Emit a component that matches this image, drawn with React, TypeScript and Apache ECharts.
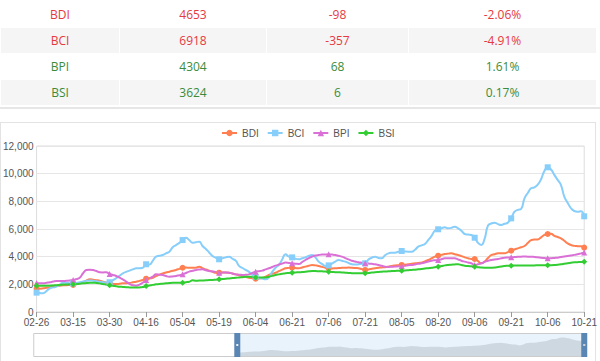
import React, { useEffect, useRef } from 'react';
import * as echarts from 'echarts';

// ---------- table ----------
const tableNames = ['BDI', 'BCI', 'BPI', 'BSI'];
const tableValues = ['4653', '6918', '4304', '3624'];
const tableChanges = ['-98', '-357', '68', '6'];
const tablePercents = ['-2.06%', '-4.91%', '1.61%', '0.17%'];

// ---------- series ----------
const seriesNames = ['BDI', 'BCI', 'BPI', 'BSI'];
const seriesColors = ['#ff7f50', '#87cefa', '#da70d6', '#32cd32'];
const seriesSymbols = ['circle', 'rect', 'triangle', 'diamond'];

// calendar used to build the category axis (trading days, UK bank holidays removed)
const firstVisibleDay = '2021-02-26';
const lastVisibleDay = '2021-10-21';
const hiddenDayCount = 96; // days before the zoom window (left of the slider handle)
const holidays = ['2020-12-25', '2020-12-28', '2021-01-01', '2021-04-02', '2021-04-05', '2021-05-03', '2021-05-31'];
const labelStep = 11;

const bdi = [
  1700, 1688, 1710, 1745, 1780, 1830, 1880, 1905, 1930, 1940, 1945,
  1950, 2010, 2070, 2170, 2265, 2360, 2340, 2300, 2265, 2190, 2120,
  2070, 2045, 2020, 2040, 2070, 2085, 2100, 2150, 2190, 2250, 2310,
  2410, 2430, 2480, 2600, 2700, 2780, 2850, 2915, 2980, 3040, 3120,
  3200, 3210, 3200, 3190, 3200, 3280, 3160, 3070, 2990, 2910, 2840,
  2840, 2850, 2860, 2840, 2780, 2720, 2660, 2600, 2540, 2480, 2440,
  2410, 2420, 2460, 2560, 2675, 2760, 2840, 2950, 3060, 3160, 3190,
  3200, 3180, 3160, 3220, 3280, 3340, 3400, 3370, 3330, 3260, 3200,
  3160, 3150, 3160, 3180, 3190, 3200, 3210, 3200, 3180, 3160, 3100,
  3040, 3080, 3130, 3170, 3200, 3220, 3240, 3280, 3330, 3360, 3380,
  3400, 3420, 3450, 3490, 3520, 3550, 3570, 3660, 3760, 3880, 4000,
  4070, 4130, 4190, 4220, 4240, 4180, 4120, 4040, 3950, 3890, 3830,
  3830, 3680, 3520, 3640, 3900, 4120, 4180, 4240, 4240, 4240, 4330,
  4430, 4520, 4600, 4680, 4770, 4980, 5200, 5250, 5250, 5400, 5570,
  5640, 5650, 5500, 5420, 5330, 5150, 4960, 4840, 4780, 4760, 4751, 4653,
];

const bci = [
  1400, 1370, 1350, 1520, 1710, 1780, 1830, 1980, 2120, 2100, 2080,
  2070, 2100, 2150, 2200, 2250, 2280, 2260, 2220, 2180, 2150, 2130,
  2150, 2300, 2450, 2620, 2800, 2900, 2990, 3080, 3160, 3160, 3200,
  3450, 3430, 3700, 4000, 4060, 4120, 4240, 4360, 4680, 4840, 5000,
  5200, 5370, 5200, 5010, 5050, 5085, 4770, 4560, 4300, 4050, 3920,
  3810, 3880, 3950, 4000, 3850, 3710, 3330, 3180, 3040, 2900, 2700,
  2550, 2480, 2420, 2360, 2500, 2900, 3200, 3400, 3800, 4170, 4000,
  3950, 3850, 3810, 3880, 3950, 4050, 4120, 3950, 3640, 3480, 3330,
  3370, 3500, 3650, 3760, 3700, 3640, 3540, 3450, 3430, 3450, 3480,
  3520, 3800, 3920, 4000, 3900, 3880, 4100, 4240, 4280, 4290, 4350,
  4410, 4380, 4360, 4360, 4500, 4720, 4820, 4920, 5200, 5500, 5880,
  5980, 6060, 6120, 6050, 6080, 6170, 6050, 5880, 5640, 5600, 5570,
  5370, 5000, 4850, 5300, 6250, 6400, 6460, 6350, 6290, 6380, 6460,
  6770, 7250, 7380, 7450, 8220, 8600, 8940, 9010, 9200, 9600, 10200,
  10460, 10300, 9910, 9550, 9180, 8340, 7900, 7500, 7300, 7250, 7275, 6918,
];

const bpi = [
  2100, 2080, 2070, 2110, 2145, 2200, 2240, 2240, 2240, 2260, 2280,
  2310, 2380, 2480, 2800, 3040, 3060, 3040, 2960, 2870, 2860, 2870,
  2750, 2680, 2600, 2480, 2360, 2200, 2030, 1930, 1900, 1980, 2120,
  2310, 2430, 2550, 2720, 2700, 2675, 2600, 2550, 2570, 2600, 2660,
  2720, 2820, 2915, 2980, 3040, 3070, 3085, 3020, 2965, 2930, 2890,
  2840, 2850, 2850, 2840, 2780, 2720, 2700, 2675, 2690, 2720, 2820,
  2915, 2950, 2990, 3080, 3160, 3250, 3350, 3430, 3500, 3570, 3550,
  3520, 3490, 3470, 3600, 3760, 3900, 4000, 4080, 4120, 4150, 4160,
  4170, 4150, 4120, 4060, 4000, 3900, 3800, 3710, 3650, 3590, 3560,
  3520, 3500, 3480, 3450, 3400, 3340, 3280, 3260, 3270, 3280, 3300,
  3330, 3350, 3380, 3400, 3440, 3480, 3520, 3580, 3650, 3710, 3740,
  3760, 3820, 3880, 3890, 3890, 3880, 3800, 3710, 3640, 3580, 3520,
  3400, 3450, 3520, 3620, 3710, 3760, 3800, 3830, 3880, 3930, 3940,
  3950, 3970, 3990, 4000, 4010, 4000, 4000, 3980, 3950, 3920, 3900,
  3880, 3890, 3910, 3930, 3970, 4010, 4050, 4090, 4130, 4170, 4236, 4304,
];

const bsi = [
  1900, 1890, 1890, 1895, 1900, 1920, 1940, 1960, 1980, 1990, 2000,
  2000, 2020, 2040, 2070, 2090, 2110, 2120, 2100, 2070, 2020, 1980,
  1930, 1890, 1860, 1830, 1810, 1790, 1780, 1775, 1775, 1780, 1800,
  1880, 1920, 1960, 2000, 2030, 2050, 2070, 2090, 2110, 2120, 2120,
  2120, 2150, 2190, 2290, 2260, 2270, 2280, 2290, 2310, 2320, 2340,
  2360, 2380, 2400, 2430, 2450, 2470, 2500, 2520, 2540, 2550, 2530,
  2500, 2490, 2490, 2500, 2550, 2610, 2675, 2720, 2760, 2800, 2820,
  2840, 2860, 2870, 2890, 2910, 2940, 2965, 2960, 2950, 2940, 2930,
  2915, 2900, 2880, 2870, 2860, 2840, 2820, 2810, 2800, 2800, 2800,
  2800, 2820, 2850, 2880, 2900, 2915, 2930, 2940, 2955, 2970, 2980,
  2990, 3000, 3020, 3040, 3060, 3085, 3110, 3140, 3170, 3200, 3240,
  3280, 3320, 3370, 3400, 3420, 3440, 3450, 3400, 3350, 3320, 3300,
  3280, 3240, 3210, 3200, 3200, 3205, 3210, 3250, 3290, 3330, 3340,
  3350, 3355, 3360, 3360, 3365, 3370, 3370, 3370, 3375, 3375, 3375,
  3375, 3385, 3400, 3420, 3450, 3490, 3530, 3560, 3590, 3605, 3618, 3624,
];

const yTicks = [0, 2000, 4000, 6000, 8000, 10000, 12000];

// ---------- calendar helpers ----------
const DAY = 86400000;
const iso = (d: Date) => d.toISOString().slice(0, 10);
const isTradingDay = (d: Date) => {
  const wd = d.getUTCDay();
  return wd !== 0 && wd !== 6 && !holidays.includes(iso(d));
};
function tradingDaysBetween(from: string, to: string): string[] {
  const out: string[] = [];
  let d = new Date(from + 'T00:00:00Z');
  const end = new Date(to + 'T00:00:00Z');
  while (d <= end) {
    if (isTradingDay(d)) out.push(iso(d));
    d = new Date(d.getTime() + DAY);
  }
  return out;
}
function tradingDaysBefore(day: string, count: number): string[] {
  const out: string[] = [];
  let d = new Date(new Date(day + 'T00:00:00Z').getTime() - DAY);
  while (out.length < count) {
    if (isTradingDay(d)) out.unshift(iso(d));
    d = new Date(d.getTime() - DAY);
  }
  return out;
}

const hiddenDays = tradingDaysBefore(firstVisibleDay, hiddenDayCount);
const visibleDays = tradingDaysBetween(firstVisibleDay, lastVisibleDay);
const categories = [...hiddenDays, ...visibleDays];
const K = hiddenDays.length;
const seriesValues = [bdi, bci, bpi, bsi];
const pad = (arr: number[]) => [...hiddenDays.map(() => null), ...arr];

const axisFont = 'Arial, "Liberation Sans", sans-serif';

function buildOption(): any {
  return {
    animation: false,
    textStyle: { fontFamily: axisFont },
    legend: {
      data: seriesNames,
      left: 216,
      top: 123,
      itemWidth: 15,
      itemHeight: 8,
      itemGap: 8,
      textStyle: { fontSize: 10, color: '#555', fontFamily: axisFont },
    },
    grid: {
      left: 33,
      right: 12,
      top: 146,
      bottom: 49,
      show: true,
      borderColor: '#ddd',
      borderWidth: 1,
    },
    xAxis: {
      type: 'category',
      boundaryGap: false,
      data: categories,
      axisLine: { show: true, lineStyle: { color: '#ccc' } },
      axisTick: { show: true, length: 5, lineStyle: { color: '#999' } },
      axisLabel: {
        interval: (index: number) => index >= K && (index - K) % labelStep === 0,
        formatter: (v: string) => v.slice(5),
        color: '#555',
        fontSize: 10,
        margin: 5,
        fontFamily: axisFont,
      },
      splitLine: { show: false },
    },
    yAxis: {
      type: 'value',
      min: yTicks[0],
      max: yTicks[yTicks.length - 1],
      interval: yTicks[1] - yTicks[0],
      axisLine: { show: false },
      axisTick: { show: false },
      axisLabel: {
        formatter: (v: number) => v.toLocaleString('en-US'),
        color: '#555',
        fontSize: 10,
        margin: 3,
        fontFamily: axisFont,
      },
      splitLine: { lineStyle: { color: '#e6e6e6' } },
    },
    dataZoom: [
      {
        type: 'slider',
        xAxisIndex: 0,
        startValue: K,
        endValue: categories.length - 1,
        left: 33,
        right: 15,
        top: 333,
        height: 24,
        showDetail: false,
        brushSelect: false,
        moveHandleSize: 0,
        borderColor: '#ccc',
        borderRadius: 0,
        backgroundColor: 'rgba(0,0,0,0)',
        fillerColor: 'rgba(144,197,237,0.2)',
        handleIcon: 'path://M0,0 L6,0 L6,24 L0,24 Z M2,11 L2,13 L4,13 L4,11 Z',
        handleSize: '100%',
        handleStyle: { color: '#5a86b4', borderWidth: 0, borderColor: '#5a86b4' },
        emphasis: { handleStyle: { color: '#5a86b4', borderWidth: 0 } },
        dataBackground: {
          lineStyle: { opacity: 0 },
          areaStyle: { color: '#e0e0e0', opacity: 1 },
        },
        selectedDataBackground: {
          lineStyle: { opacity: 0 },
          areaStyle: { color: '#dedede', opacity: 1 },
        },
      },
    ],
    series: seriesNames.map((name, i) => ({
      name,
      type: 'line',
      data: pad(seriesValues[i]),
      smooth: true,
      symbol: seriesSymbols[i],
      symbolSize: 6,
      showAllSymbol: 'auto',
      color: seriesColors[i],
      itemStyle: { color: seriesColors[i] },
      lineStyle: { width: 2, color: seriesColors[i] },
    })),
  };
}

export default function App() {
  const ref = useRef<HTMLDivElement>(null);
  useEffect(() => {
    if (!ref.current) return;
    const chart = echarts.init(ref.current, undefined, { renderer: 'svg' });
    chart.setOption(buildOption());
    return () => chart.dispose();
  }, []);

  const colWidths = [119, 147, 142, 188];
  const red = '#e6393e';
  const green = '#3a8c3a';

  return (
    <div
      style={{
        position: 'fixed',
        left: 0,
        top: 0,
        width: 600,
        height: 361,
        overflow: 'hidden',
        background: '#fff',
        fontFamily: '"Open Sans", "Noto Sans", sans-serif',
      }}
    >
      <table
        style={{
          position: 'absolute',
          left: 0,
          top: 1,
          width: 596,
          borderCollapse: 'collapse',
          tableLayout: 'fixed',
          fontSize: 12,
        }}
      >
        <colgroup>
          {colWidths.map((w, i) => (
            <col key={i} style={{ width: w }} />
          ))}
        </colgroup>
        <tbody>
          {tableNames.map((name, r) => {
            const color = tableChanges[r].startsWith('-') ? red : green;
            const cells = [name, tableValues[r], tableChanges[r], tablePercents[r]];
            return (
              <tr key={name} style={{ height: 26, background: r % 2 === 1 ? '#f5f5f5' : '#fff' }}>
                {cells.map((c, j) => (
                  <td
                    key={j}
                    style={{
                      border: '1px solid #fff',
                      padding: 0,
                      textAlign: 'center',
                      color,
                      lineHeight: '24px',
                    }}
                  >
                    {c}
                  </td>
                ))}
              </tr>
            );
          })}
        </tbody>
      </table>
      <div style={{ position: 'absolute', left: 0, top: 107, width: 600, height: 2, background: '#e6e6e6' }} />
      <div
        style={{
          position: 'absolute',
          left: 0,
          top: 122,
          width: 596,
          height: 260,
          boxSizing: 'border-box',
          border: '1px solid #e3e3e3',
        }}
      />
      <div ref={ref} style={{ position: 'absolute', left: 0, top: 0, width: 600, height: 361 }} />
    </div>
  );
}
